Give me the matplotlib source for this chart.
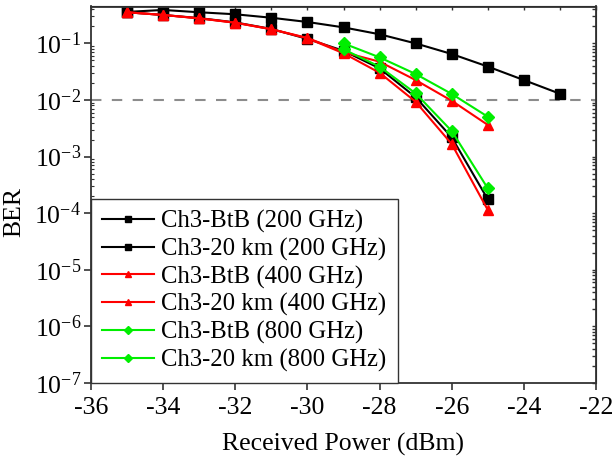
import numpy as np
import matplotlib
matplotlib.use("Agg")
import matplotlib.pyplot as plt
from matplotlib.ticker import LogLocator, NullFormatter

plt.rcParams["font.family"] = ["Liberation Serif", "DejaVu Serif"]
plt.rcParams["mathtext.fontset"] = "custom"
plt.rcParams["mathtext.rm"] = "Liberation Serif"
plt.rcParams["mathtext.it"] = "Liberation Serif:italic"
plt.rcParams["axes.unicode_minus"] = False

# data
power_long = [-35, -34, -33, -32, -31, -30, -29, -28, -27, -26, -25, -24, -23]
power = [-35, -34, -33, -32, -31, -30, -29, -28, -27, -26, -25]
power_800 = [-29, -28, -27, -26, -25]

btb_200 = [0.355, 0.318, 0.28, 0.235, 0.18, 0.12, 0.074, 0.0363, 0.0112, 0.00219, 0.000176]
km20_200 = [0.36, 0.39, 0.355, 0.327, 0.284, 0.239, 0.192, 0.145, 0.100, 0.065, 0.039, 0.0225, 0.0129]
btb_400 = [0.355, 0.318, 0.277, 0.232, 0.178, 0.123, 0.067, 0.0303, 0.0093, 0.00167, 0.000114]
km20_400 = [0.355, 0.318, 0.277, 0.232, 0.178, 0.125, 0.07, 0.0475, 0.0225, 0.0097, 0.00363]
btb_800 = [0.0787, 0.0388, 0.0131, 0.00283, 0.000275]
km20_800 = [0.100, 0.0567, 0.0288, 0.0128, 0.00507]

fec_limit = 1e-2

xticks = [-36, -34, -32, -30, -28, -26, -24, -22]
yticks = [1e-7, 1e-6, 1e-5, 1e-4, 1e-3, 1e-2, 1e-1]
ytick_labels = [r"$10^{-7}$", r"$10^{-6}$", r"$10^{-5}$", r"$10^{-4}$",
                r"$10^{-3}$", r"$10^{-2}$", r"$10^{-1}$"]

FS = 18.5
W, H = 612, 457
fig = plt.figure(figsize=(W / 100, H / 100), dpi=100)
ax = fig.add_axes([91 / W, 1 - 383 / H, (596 - 91) / W, (383 - 6.5) / H])

ax.axhline(fec_limit, color="#8c8c8c", lw=1.5, ls=(0, (5, 5)), zorder=1)

ax.plot(power, btb_200, color="black", marker="s", ms=6.5, lw=1.5, label="Ch3-BtB (200 GHz)")
ax.plot(power_long, km20_200, color="black", marker="s", ms=6.5, lw=1.5, label="Ch3-20 km (200 GHz)")
ax.plot(power, btb_400, color="red", marker="^", ms=7.5, lw=1.5, label="Ch3-BtB (400 GHz)")
ax.plot(power, km20_400, color="red", marker="^", ms=7.5, lw=1.5, label="Ch3-20 km (400 GHz)")
ax.plot(power_800, btb_800, color="#00ee00", marker="D", ms=6.5, lw=1.5, label="Ch3-BtB (800 GHz)")
ax.plot(power_800, km20_800, color="#00ee00", marker="D", ms=6.5, lw=1.5, label="Ch3-20 km (800 GHz)")

ax.set_yscale("log")
ax.set_xlim(-36, -22)
ax.set_ylim(1e-7, 10 ** (-0.348))
ax.set_xticks(xticks)
ax.set_xticklabels([str(v) for v in xticks])
ax.set_yticks(yticks)
ax.set_yticklabels(ytick_labels)
ax.yaxis.set_minor_locator(LogLocator(base=10, subs=np.arange(2, 10)))
ax.yaxis.set_minor_formatter(NullFormatter())

for s in ax.spines.values():
    s.set_color("#333333")
    s.set_linewidth(1.3)

ax.tick_params(axis="both", which="major", direction="out", length=5, width=1.2,
               labelsize=FS, color="#333333")
ax.tick_params(axis="x", which="major", pad=5)
ax.tick_params(axis="y", which="major", pad=2)
ax.tick_params(axis="y", which="minor", direction="in", length=2.5, width=0.8, color="#333333")

top = ax.secondary_xaxis("top")
top.set_xticks(np.arange(-36, -21, 1))
top.tick_params(direction="in", length=3, width=1.0, labeltop=False, color="#333333")
right = ax.secondary_yaxis("right")
right.set_yticks(yticks)
right.yaxis.set_minor_locator(LogLocator(base=10, subs=np.arange(2, 10)))
right.yaxis.set_minor_formatter(NullFormatter())
right.tick_params(which="both", direction="in", length=3, width=1.0, labelright=False, color="#333333")

ax.set_xlabel("Received Power (dBm)", fontsize=FS, labelpad=10)
ax.set_ylabel("BER", fontsize=FS)
ax.yaxis.set_label_coords(-66 / (596 - 91), 1 - (212 - 6.5) / (383 - 6.5))

leg = ax.legend(loc="lower left", bbox_to_anchor=(0, 0), borderaxespad=0, fontsize=17.8,
                fancybox=False, edgecolor="#333333", framealpha=1, markerscale=0.65,
                handlelength=2.1, handletextpad=0.3, labelspacing=0.19, borderpad=0.45)
leg.get_frame().set_linewidth(1.0)

fig.savefig("out.png", dpi=100)
